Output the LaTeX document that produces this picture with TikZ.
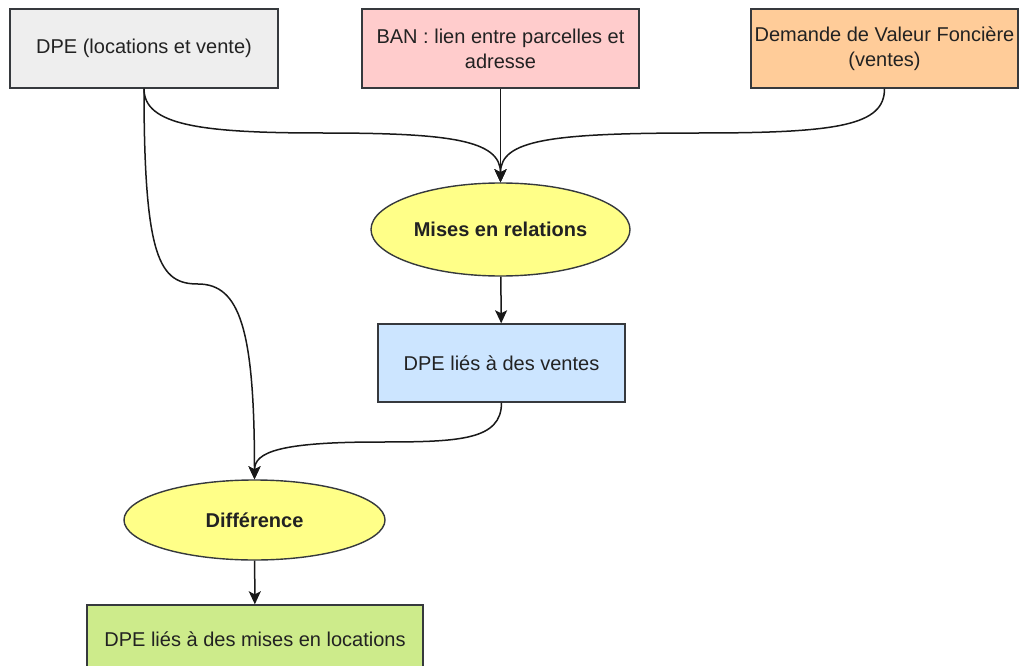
\documentclass[tikz,border=0pt]{standalone}
\usepackage{fontspec}
\setmainfont{Liberation Sans}
\usetikzlibrary{shapes.geometric,arrows.meta}
\definecolor{strk}{HTML}{36393D}
\definecolor{fgray}{HTML}{EEEEEE}
\definecolor{fpink}{HTML}{FFCCCC}
\definecolor{forange}{HTML}{FFCC99}
\definecolor{fyellow}{HTML}{FFFF88}
\definecolor{fblue}{HTML}{CCE5FF}
\definecolor{fgreen}{HTML}{CDEB8B}
\definecolor{txt}{HTML}{222222}
\begin{document}
\begin{tikzpicture}[x=1pt,y=-1pt,
  box/.style={draw=strk, line width=1.4pt, rectangle, inner sep=0pt, align=center, text=txt, font=\fontsize{20}{25}\selectfont},
  oval/.style={draw=strk, line width=1.4pt, ellipse, inner sep=0pt, fill=fyellow, text=txt, font=\fontsize{20}{25}\selectfont\bfseries},
  conn/.style={draw=black!90, line width=1.5pt, -{Stealth[length=13pt,width=12pt,inset=3pt]}}
]
\clip (0,0) rectangle (1020,666);
\fill[white] (0,0) rectangle (1020,666);
\node[box, fill=fgray, minimum width=268pt, minimum height=79pt] (dpe) at (144,48.5) {DPE (locations et vente)};
\node[box, fill=fpink, minimum width=277pt, minimum height=79pt] (ban) at (500.5,48.5) {BAN : lien entre parcelles et\\adresse};
\node[box, fill=forange, minimum width=267pt, minimum height=79pt] (dvf) at (884.5,48.5) {Demande de Valeur Foncière\\(ventes)};
\node[oval, minimum width=259pt, minimum height=93pt] (mis) at (500.5,229.5) {Mises en relations};
\node[box, fill=fblue, minimum width=247pt, minimum height=78pt] (ven) at (501.5,363) {DPE liés à des ventes};
\node[oval, minimum width=261pt, minimum height=80pt] (dif) at (254.5,520) {Différence};
\node[box, fill=fgreen, minimum width=336pt, minimum height=68pt] (loc) at (255,639) {DPE liés à des mises en locations};

\draw[conn] (dpe.south) .. controls (144,125) and (200,133) .. (322,133) .. controls (450,133) and (500.5,140) .. (mis.north);
\draw[conn] (ban) -- (mis);
\draw[conn] (dvf.south) .. controls (884.5,125) and (840,133) .. (700,133) .. controls (550,133) and (500.5,140) .. (mis.north);
\draw[conn] (mis) -- (ven);
\draw[conn] (dpe.south) .. controls (144,260) and (160,284) .. (198,284) .. controls (240,284) and (254.5,330) .. (dif.north);
\draw[conn] (ven.south) .. controls (501.5,440) and (460,442) .. (380,442) .. controls (280,442) and (254.5,452) .. (dif.north);
\draw[conn] (dif) -- (loc);
\end{tikzpicture}
\end{document}
